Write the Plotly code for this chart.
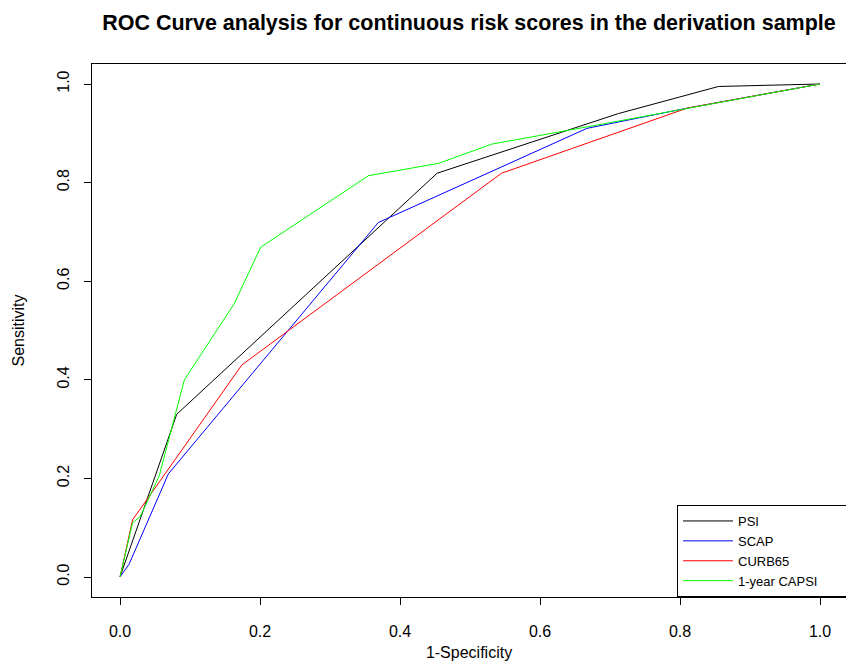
import plotly.graph_objects as go

# Data
psi_x = [0.0, 0.081, 0.453, 0.712, 0.855, 1.0]
psi_y = [0.0, 0.330, 0.819, 0.940, 0.995, 1.0]

scap_x = [0.0, 0.013, 0.069, 0.369, 0.667, 0.810, 1.0]
scap_y = [0.0, 0.026, 0.209, 0.719, 0.910, 0.951, 1.0]

curb_x = [0.0, 0.018, 0.174, 0.545, 0.810, 1.0]
curb_y = [0.0, 0.116, 0.430, 0.819, 0.951, 1.0]

capsi_x = [0.0, 0.018, 0.029, 0.056, 0.092, 0.163, 0.201, 0.355, 0.455, 0.531, 0.667, 0.810, 1.0]
capsi_y = [0.0, 0.110, 0.123, 0.205, 0.400, 0.554, 0.669, 0.814, 0.839, 0.878, 0.913, 0.951, 1.0]

series_names = ["PSI", "SCAP", "CURB65", "1-year CAPSI"]
series_colors = ["#000000", "#0000FF", "#FF0000", "#00FF00"]
series_x = [psi_x, scap_x, curb_x, capsi_x]
series_y = [psi_y, scap_y, curb_y, capsi_y]

tick_vals = [0.0, 0.2, 0.4, 0.6, 0.8, 1.0]
tick_text = ["0.0", "0.2", "0.4", "0.6", "0.8", "1.0"]

FONT = "Liberation Sans, Arial, sans-serif"

fig = go.Figure()
for nm, col, xs, ys in zip(series_names, series_colors, series_x, series_y):
    fig.add_trace(go.Scatter(x=xs, y=ys, mode="lines",
                             name=nm + "\u00a0" * 7,
                             line=dict(color=col, width=1)))

W, H = 846, 662
L, R, T, B = 92, 0, 64, 65
pw = W - L - R
ph = H - T - B
xpx = 700.0
ypx = 493.0
xr = [-28 / xpx, -28 / xpx + pw / xpx]
yr = [-20 / ypx, -20 / ypx + ph / ypx]

fig.update_layout(
    width=W, height=H,
    margin=dict(l=L, r=R, t=T, b=B, pad=0, autoexpand=False),
    paper_bgcolor="white", plot_bgcolor="white",
    font=dict(family=FONT, color="black", size=16),
    title=dict(text="<b>ROC Curve analysis for continuous risk scores in the derivation sample</b>",
               x=0.5, xref="paper", xanchor="center",
               y=1 - 22 / H, yref="container", yanchor="middle",
               font=dict(size=21.5, family=FONT, color="black")),
    showlegend=True,
    legend=dict(x=(677 - L) / pw, xanchor="left", y=0, yanchor="bottom",
                xref="paper", yref="paper",
                bordercolor="black", borderwidth=1, bgcolor="white",
                font=dict(size=13, family=FONT, color="black"),
                itemwidth=50,
                traceorder="normal"),
)

fig.update_xaxes(range=xr, tickvals=tick_vals, ticktext=tick_text,
                 showgrid=False, zeroline=False,
                 showline=True, mirror=True, linecolor="black", linewidth=1,
                 ticks="outside", ticklen=7, tickcolor="black", tickwidth=1,
                 tickfont=dict(size=16), ticklabelstandoff=13,
                 title=dict(text="1-Specificity", font=dict(size=16), standoff=7))
fig.update_yaxes(range=yr, tickvals=tick_vals, ticktext=tick_text,
                 showgrid=False, zeroline=False,
                 showline=True, mirror=False, linecolor="black", linewidth=1,
                 ticks="outside", ticklen=7, tickcolor="black", tickwidth=1,
                 tickangle=-90, tickfont=dict(size=16), ticklabelstandoff=9,
                 title=dict(text="Sensitivity", font=dict(size=16), standoff=25))

fig.write_html("out.html")
